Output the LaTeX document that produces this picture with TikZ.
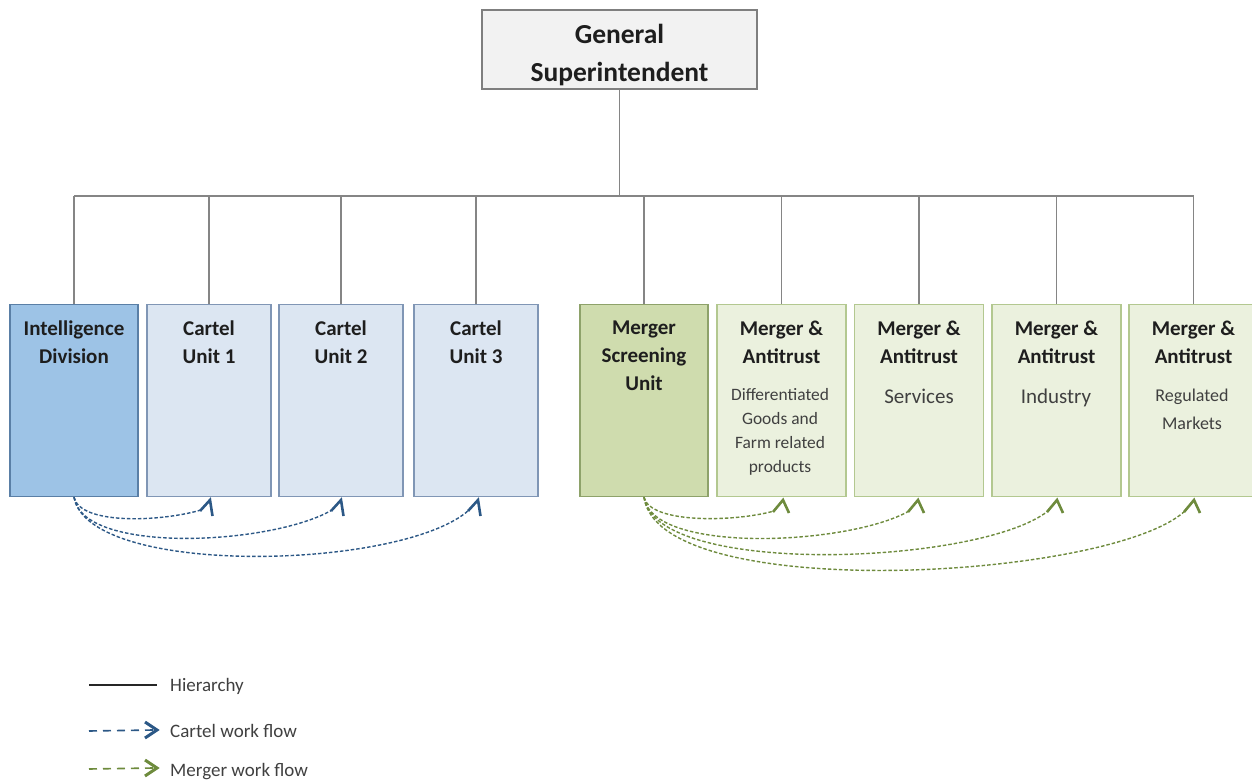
\documentclass[tikz,border=0pt]{standalone}
\usepackage{fontspec}
\setmainfont{Carlito}
\usetikzlibrary{arrows.meta,calc}
\definecolor{hier}{HTML}{858585}
\definecolor{topfill}{HTML}{F2F2F2}
\definecolor{topdraw}{HTML}{7F7F7F}
\definecolor{intfill}{HTML}{9DC3E6}
\definecolor{intdraw}{HTML}{5A7FA6}
\definecolor{carfill}{HTML}{DCE6F2}
\definecolor{cardraw}{HTML}{8096B5}
\definecolor{msfill}{HTML}{CFDCAE}
\definecolor{msdraw}{HTML}{8EA26A}
\definecolor{mafill}{HTML}{EBF1DE}
\definecolor{madraw}{HTML}{B3C890}
\definecolor{cflow}{HTML}{2C5886}
\definecolor{mflow}{HTML}{6E8B3D}
\definecolor{titletext}{HTML}{1E1E1E}
\definecolor{subtext}{HTML}{404040}
\begin{document}
\begin{tikzpicture}[x=1pt,y=-1pt,
  unitbox/.style={draw, line width=1.3pt, minimum height=192pt, inner sep=0pt},
  topbox/.style={unitbox, fill=topfill, draw=topdraw, minimum width=275pt, minimum height=79pt},
  intbox/.style={unitbox, fill=intfill, draw=intdraw, minimum width=128pt},
  carbox/.style={unitbox, fill=carfill, draw=cardraw, minimum width=124pt},
  msbox/.style={unitbox, fill=msfill, draw=msdraw, minimum width=128pt},
  mabox/.style={unitbox, fill=mafill, draw=madraw, minimum width=129pt},
  title/.style={anchor=north, align=center, inner sep=0pt, text=titletext, font=\fontsize{21}{28}\selectfont\bfseries},
  bigtitle/.style={anchor=north, align=center, inner sep=0pt, text=titletext, font=\fontsize{27.5}{38}\selectfont\bfseries},
  sub/.style={anchor=north, align=center, inner sep=0pt, text=subtext},
  hline/.style={draw=hier, line width=1.2pt},
  cflowline/.style={draw=cflow, line width=1.4pt, dash pattern=on 3.5pt off 2pt},
  mflowline/.style={draw=mflow, line width=1.4pt, dash pattern=on 3.5pt off 2pt},
  chev/.style={line width=2.6pt, line join=miter, line cap=butt},
  legtext/.style={anchor=west, inner sep=0pt, text=subtext, font=\fontsize{19}{22}\selectfont}
]
\useasboundingbox (0,0) rectangle (1252,783);

% top box
\node[topbox] (gs) at (619.5,49.5) {};
\node[bigtitle] (gst) at (619.5,24) {General\\Superintendent};

% unit boxes
\node[intbox] (intel) at (74,400.5) {};
\node[carbox] (c1) at (209,400.5) {};
\node[carbox] (c2) at (341,400.5) {};
\node[carbox] (c3) at (476,400.5) {};
\node[msbox] (ms) at (644,400.5) {};
\node[mabox] (ma1) at (781.5,400.5) {};
\node[mabox] (ma2) at (919,400.5) {};
\node[mabox] (ma3) at (1056.5,400.5) {};
\node[mabox] (ma4) at (1193.5,400.5) {};

% titles
\node[title] (intelt) at (74,320.5) {Intelligence\\Division};
\node[title] (c1t) at (209,320.5) {Cartel\\Unit 1};
\node[title] (c2t) at (341,320.5) {Cartel\\Unit 2};
\node[title] (c3t) at (476,320.5) {Cartel\\Unit 3};
\node[title] (mst) at (644,320.5) {Merger\\Screening\\Unit};
\node[title] (ma1t) at (781.5,320.5) {Merger \&\\Antitrust};
\node[title] (ma2t) at (919,320.5) {Merger \&\\Antitrust};
\node[title] (ma3t) at (1056.5,320.5) {Merger \&\\Antitrust};
\node[title] (ma4t) at (1193.5,320.5) {Merger \&\\Antitrust};

% subtitles
\node[sub, font=\fontsize{17.4}{24}\selectfont] (ma1s) at (780,388) {Differentiated\\Goods and\\Farm related\\products};
\node[sub, font=\fontsize{21}{28}\selectfont] (ma2s) at (919,388.5) {Services};
\node[sub, font=\fontsize{21}{28}\selectfont] (ma3s) at (1056,388.5) {Industry};
\node[sub, font=\fontsize{18}{28}\selectfont] (ma4s) at (1192,389) {Regulated\\Markets};

% hierarchy
\coordinate (bus) at (619.5,196);
\draw[hline] (gs.south) -- (bus);
\draw[hline] (intel.north |- bus) -- (ma4.north |- bus);
\foreach \n in {intel,c1,c2,c3,ms,ma1,ma2,ma3,ma4}
  \draw[hline] (\n.north |- bus) -- (\n.north);

% cartel work flow (tips of the chevrons)
\coordinate (ct1) at (210,500);
\coordinate (ct2) at (341,500);
\coordinate (ct3) at (478,500);
\draw[cflowline] (intel.south) .. controls (80,525) and (160,522) .. ($(ct1)+(-9,10)$);
\draw[cflowline] (intel.south) .. controls (82,555) and (272,545) .. ($(ct2)+(-9,10)$);
\draw[cflowline] (intel.south) .. controls (88,578) and (403,570) .. ($(ct3)+(-9,10)$);
\foreach \t in {ct1,ct2,ct3}
  \draw[chev, draw=cflow] ($(\t)+(-10,11)$) -- (\t) -- ($(\t)+(2.5,16)$);

% merger work flow
\coordinate (mt1) at (783,500);
\coordinate (mt2) at (918,500);
\coordinate (mt3) at (1057,500);
\coordinate (mt4) at (1194,500);
\draw[mflowline] (ms.south) .. controls (650,524) and (735,522) .. ($(mt1)+(-9,11)$);
\draw[mflowline] (ms.south) .. controls (652,555) and (850,545) .. ($(mt2)+(-9,11)$);
\draw[mflowline] (ms.south) .. controls (655,578) and (980,565) .. ($(mt3)+(-9,11)$);
\draw[mflowline] (ms.south) .. controls (658,605) and (1110,580) .. ($(mt4)+(-9,11)$);
\foreach \t in {mt1,mt2,mt3,mt4}
  \draw[chev, draw=mflow] ($(\t)+(-10,12)$) -- (\t) -- ($(\t)+(6,13)$);

% legend
\coordinate (l1a) at (89,685);
\coordinate (l1b) at (157,685);
\coordinate (l2a) at (89,731);
\coordinate (l2b) at (157,730);
\coordinate (l3a) at (89,769);
\coordinate (l3b) at (157,768);
\draw[draw=black!85, line width=1.4pt] (l1a) -- (l1b);
\draw[draw=cflow, line width=1.6pt, dash pattern=on 8pt off 6pt] (l2a) -- ($(l2b)+(-4,0)$);
\draw[chev, draw=cflow, line width=3pt] ($(l2b)+(-12,-8)$) -- (l2b) -- ($(l2b)+(-12,8)$);
\draw[draw=mflow, line width=1.6pt, dash pattern=on 8pt off 6pt] (l3a) -- ($(l3b)+(-4,0)$);
\draw[chev, draw=mflow, line width=3pt] ($(l3b)+(-12,-8)$) -- (l3b) -- ($(l3b)+(-12,8)$);
\node[legtext] (lt1) at (170,686) {Hierarchy};
\node[legtext] (lt2) at (170,731) {Cartel work flow};
\node[legtext] (lt3) at (170,772) {Merger work flow};
\end{tikzpicture}
\end{document}
